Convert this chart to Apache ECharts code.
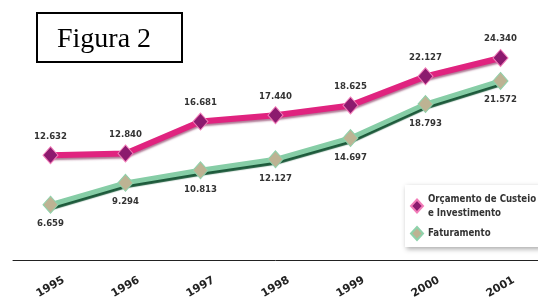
<!DOCTYPE html>
<html>
<head>
<meta charset="utf-8">
<script src="https://cdn.jsdelivr.net/npm/echarts@6/dist/echarts.min.js"></script>
<style>
  html, body { margin: 0; padding: 0; background: #fff; }
  #chart { width: 538px; height: 297px; }
</style>
</head>
<body>
<div id="chart"></div>
<script>
  // anos no eixo x
  const years = ['1995', '1996', '1997', '1998', '1999', '2000', '2001']
  // Orçamento de Custeio e Investimento
  const orcamento = [12632, 12840, 16681, 17440, 18625, 22127, 24340]
  // Faturamento
  const faturamento = [6659, 9294, 10813, 12127, 14697, 18793, 21572]
  const seriesNames = ['Orçamento de Custeio\ne Investimento', 'Faturamento']

  const fmt = v => String(v).replace(/\B(?=(\d{3})+(?!\d))/g, '.')
  const labelFont = {
    show: true,
    fontFamily: 'DejaVu Sans Condensed',
    fontWeight: 'bold',
    fontSize: 9.5,
    color: '#333',
    distance: 5,
    formatter: p => fmt(p.value)
  }

  const chart = echarts.init(document.getElementById('chart'))
  chart.setOption({
    animation: false,
    grid: { left: 13, right: 0, top: 11, bottom: 37, outerBoundsMode: 'none', containLabel: false },
    graphic: [
      {
        type: 'rect',
        shape: { x: 37, y: 13, width: 145, height: 49 },
        style: { fill: '#fff', stroke: '#000', lineWidth: 2 }
      },
      {
        type: 'text',
        x: 57,
        y: 40,
        style: {
          text: 'Figura 2',
          font: '28px "Liberation Serif"',
          fill: '#000',
          verticalAlign: 'middle'
        }
      }
    ],
    legend: {
      orient: 'vertical',
      left: 405,
      top: 185,
      padding: [7, 6, 6, 5],
      itemGap: 6,
      itemWidth: 12,
      itemHeight: 13,
      backgroundColor: '#fff',
      shadowColor: 'rgba(0,0,0,0.35)',
      shadowBlur: 5,
      shadowOffsetX: 1,
      shadowOffsetY: 2,
      data: [
        { name: seriesNames[0], icon: 'diamond' },
        { name: seriesNames[1], icon: 'diamond' }
      ],
      textStyle: {
        fontFamily: 'DejaVu Sans Condensed',
        fontWeight: 'bold',
        fontSize: 9.6,
        color: '#333',
        lineHeight: 14
      }
    },
    xAxis: {
      type: 'category',
      data: years,
      boundaryGap: true,
      axisLine: { lineStyle: { color: '#222', width: 1 } },
      axisTick: { alignWithLabel: true, length: 9, lineStyle: { color: '#222' } },
      axisLabel: {
        rotate: 30,
        align: 'center',
        verticalAlign: 'middle',
        margin: 27,
        fontFamily: 'DejaVu Sans',
        fontWeight: 'bold',
        fontSize: 11,
        color: '#222'
      }
    },
    yAxis: {
      type: 'value',
      min: 0,
      max: 30000,
      show: false,
      splitLine: { show: false }
    },
    series: [
      {
        name: seriesNames[0],
        type: 'line',
        data: orcamento,
        symbol: 'diamond',
        symbolSize: [15, 17],
        z: 3,
        lineStyle: {
          color: '#e0237f',
          width: 6,
          shadowColor: 'rgba(110,10,60,0.55)',
          shadowBlur: 2,
          shadowOffsetY: 2
        },
        itemStyle: { color: '#8c1a6e', borderColor: '#f27cb8', borderWidth: 1 },
        label: Object.assign({ position: 'top' }, labelFont)
      },
      {
        name: seriesNames[1],
        type: 'line',
        data: faturamento,
        symbol: 'diamond',
        symbolSize: [15, 17],
        z: 2,
        lineStyle: {
          color: '#86cda6',
          width: 5,
          shadowColor: '#1d5a3b',
          shadowBlur: 1,
          shadowOffsetY: 3
        },
        itemStyle: { color: '#bdb393', borderColor: '#8fd2ab', borderWidth: 1 },
        label: Object.assign({ position: 'bottom' }, labelFont)
      }
    ]
  })
</script>
</body>
</html>
